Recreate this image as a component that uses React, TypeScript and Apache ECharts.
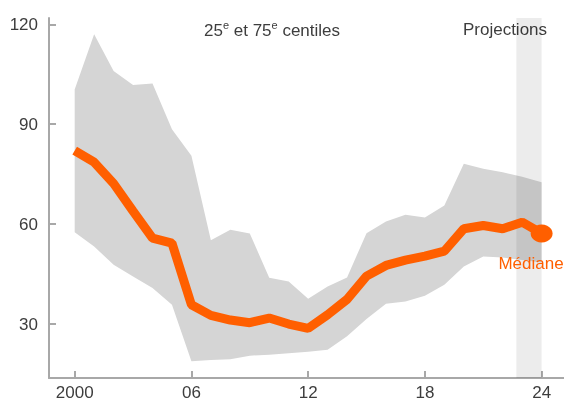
import React, { useEffect, useRef } from "react";
import * as echarts from "echarts";

const years = [2000, 2001, 2002, 2003, 2004, 2005, 2006, 2007, 2008, 2009, 2010, 2011, 2012, 2013, 2014, 2015, 2016, 2017, 2018, 2019, 2020, 2021, 2022, 2023, 2024];
const median = [82.1, 78.6, 72.2, 63.9, 55.8, 54.3, 35.8, 32.6, 31.2, 30.4, 31.8, 30.0, 28.7, 32.8, 37.4, 44.4, 47.6, 49.2, 50.4, 51.9, 58.6, 59.6, 58.6, 60.6, 57.2];
const p75 = [100.4, 117.0, 106.0, 101.8, 102.2, 88.5, 80.5, 55.2, 58.3, 57.2, 43.9, 42.8, 37.6, 41.3, 44.0, 57.3, 60.8, 62.8, 62.0, 65.6, 78.1, 76.6, 75.6, 74.2, 72.6];
const p25 = [57.6, 53.3, 47.8, 44.3, 40.8, 35.8, 18.8, 19.2, 19.4, 20.5, 20.8, 21.2, 21.7, 22.3, 26.3, 31.5, 36.1, 36.8, 38.5, 41.8, 47.3, 50.3, 50.0, 49.2, 48.5];
const projection = [2022.7, 2024];
const xTicks = [2000, 2006, 2012, 2018, 2024];
const xTickLabels = ["2000", "06", "12", "18", "24"];
const yTicks = [30, 60, 90, 120];
const xMin = 1998.68;
const xMax = 2025.15;
const yMin = 13.8;
const yMax = 121.9;

const FONT = "'Liberation Sans', Arial, sans-serif";
const ORANGE = "#ff5f00";
const TEXT = "#3d3d3d";

export default function App() {
  const ref = useRef<HTMLDivElement>(null);
  useEffect(() => {
    if (!ref.current) return;
    const chart = echarts.init(ref.current, null, { renderer: "svg" });
    const option: any = {
      animation: false,
      textStyle: { fontFamily: FONT },
      grid: { left: 49, right: 0, top: 18, bottom: 24, containLabel: false },
      xAxis: {
        type: "value",
        min: xMin,
        max: xMax,
        splitLine: { show: false },
        axisLine: { show: true, lineStyle: { color: "#a8a8a8", width: 2 } },
        axisTick: { show: true, inside: true, length: 7, customValues: xTicks, lineStyle: { color: "#a8a8a8", width: 2 } },
        axisLabel: {
          customValues: xTicks,
          margin: 6,
          fontSize: 17,
          color: TEXT,
          fontFamily: FONT,
          formatter: (v: number) => {
            const i = xTicks.indexOf(Math.round(v));
            return i >= 0 ? xTickLabels[i] : "";
          },
        },
      },
      yAxis: {
        type: "value",
        min: yMin,
        max: yMax,
        splitLine: { show: false },
        axisLine: { show: true, lineStyle: { color: "#a8a8a8", width: 2 } },
        axisTick: { show: true, inside: true, length: 7, customValues: yTicks, lineStyle: { color: "#a8a8a8", width: 2 } },
        axisLabel: {
          customValues: yTicks,
          margin: 11,
          fontSize: 17,
          color: TEXT,
          fontFamily: FONT,
        },
      },
      graphic: [
        {
          type: "text",
          left: 204,
          top: 19,
          style: {
            text: "{a|25}{s|e}{a| et 75}{s|e}{a| centiles}",
            rich: {
              a: { fontSize: 17, fontFamily: FONT, fill: TEXT, lineHeight: 20, verticalAlign: "bottom" },
              s: { fontSize: 11, fontFamily: FONT, fill: TEXT, lineHeight: 12, verticalAlign: "top" },
            },
          },
        },
        {
          type: "text",
          x: 505,
          y: 29,
          style: { text: "Projections", fontSize: 17, fontFamily: FONT, fill: TEXT, textAlign: "center", textVerticalAlign: "middle" },
        },
        {
          type: "text",
          x: 531,
          y: 263,
          style: { text: "Médiane", fontSize: 17, fontFamily: FONT, fill: ORANGE, textAlign: "center", textVerticalAlign: "middle" },
          z: 10,
        },
      ],
      series: [
        {
          type: "custom",
          z: 1,
          silent: true,
          data: years.map((y, i) => [y, p25[i], p75[i]]),
          encode: { x: 0, y: [1, 2] },
          renderItem: (params: any, api: any) => {
            if (params.dataIndex !== 0) return null;
            const pts: number[][] = [];
            for (let i = 0; i < years.length; i++) pts.push(api.coord([years[i], p75[i]]));
            for (let i = years.length - 1; i >= 0; i--) pts.push(api.coord([years[i], p25[i]]));
            return { type: "polygon", shape: { points: pts }, style: { fill: "#d5d5d5" } };
          },
        },
        {
          type: "custom",
          z: 2,
          silent: true,
          data: [[projection[0], projection[1]]],
          encode: { x: [0, 1] },
          renderItem: (params: any, api: any) => {
            const a = api.coord([api.value(0), yMax]);
            const b = api.coord([api.value(1), yMin]);
            return {
              type: "rect",
              shape: { x: a[0], y: a[1], width: b[0] - a[0], height: b[1] - a[1] },
              style: { fill: "rgba(0,0,0,0.075)" },
            };
          },
        },
        {
          type: "line",
          z: 3,
          symbol: "none",
          showSymbol: true,
          clip: false,
          lineStyle: { color: ORANGE, width: 9 },
          itemStyle: { color: ORANGE },
          data: years.map((y, i) =>
            i === years.length - 1
              ? { value: [y, median[i]], symbol: "circle", symbolSize: [22, 18], itemStyle: { color: ORANGE } }
              : [y, median[i]]
          ),
        },
      ],
    };
    chart.setOption(option);
    return () => chart.dispose();
  }, []);
  return <div ref={ref} style={{ position: "fixed", left: 0, top: 0, width: 564, height: 402 }} />;
}
